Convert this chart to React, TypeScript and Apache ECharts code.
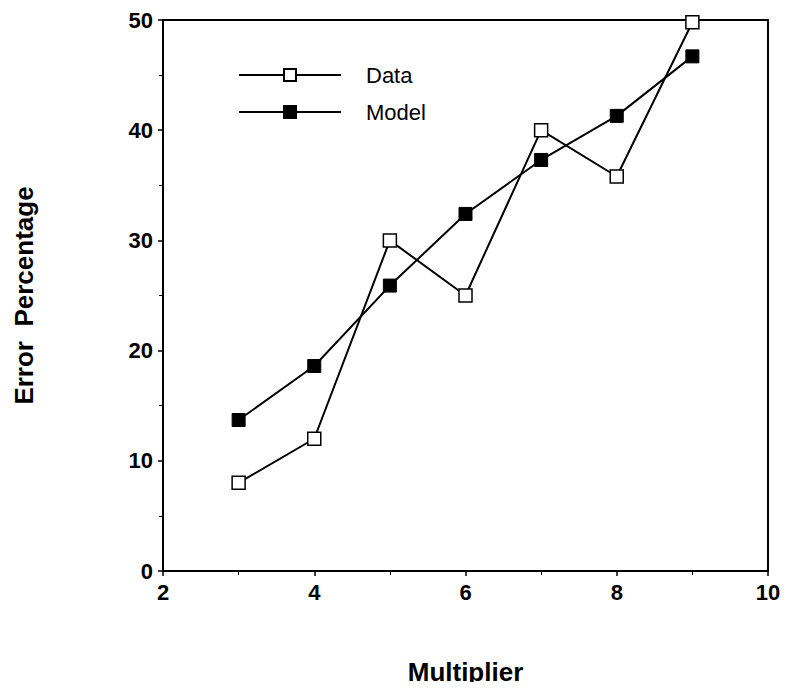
import React, { useEffect, useRef } from "react";
import * as echarts from "echarts";

const multipliers = [3, 4, 5, 6, 7, 8, 9];
const dataValues = [8, 12, 30, 25, 40, 35.8, 49.8];
const modelValues = [13.7, 18.6, 25.9, 32.4, 37.3, 41.3, 46.7];

const FONT = "Liberation Sans, Arial, Helvetica, sans-serif";

export default function App() {
  const ref = useRef<HTMLDivElement>(null);
  useEffect(() => {
    if (!ref.current) return;
    const chart = echarts.init(ref.current, null, { renderer: "svg" });
    const pairs = (vals: number[]) => multipliers.map((m, i) => [m, vals[i]]);
    chart.setOption({
      animation: false,
      backgroundColor: "#ffffff",
      grid: {
        left: 163,
        right: 22,
        top: 20,
        bottom: 118,
        show: true,
        borderColor: "#000",
        borderWidth: 2,
        backgroundColor: "transparent",
      },
      legend: {
        orient: "vertical",
        left: 233,
        top: 59,
        itemWidth: 102,
        itemHeight: 15,
        itemGap: 15,
        textStyle: {
          fontFamily: FONT,
          fontSize: 22,
          color: "#000",
          padding: [0, 0, 0, 20],
        },
        data: ["Data", "Model"],
      },
      xAxis: {
        type: "value",
        min: 2,
        max: 10,
        interval: 2,
        name: "Multiplier",
        nameLocation: "middle",
        nameGap: 88,
        nameTextStyle: { fontFamily: FONT, fontSize: 26, fontWeight: "bold", color: "#000" },
        axisLine: { show: true, lineStyle: { color: "#000", width: 2 } },
        axisTick: { show: true, length: 5, lineStyle: { color: "#000", width: 1.5 } },
        minorTick: { show: true, splitNumber: 2, length: 4, lineStyle: { color: "#000", width: 1 } },
        splitLine: { show: false },
        axisLabel: { fontFamily: FONT, fontSize: 22, fontWeight: "bold", color: "#000", margin: 10 },
      },
      yAxis: {
        type: "value",
        min: 0,
        max: 50,
        interval: 10,
        name: "Error  Percentage",
        nameLocation: "middle",
        nameGap: 126,
        nameRotate: 90,
        nameTextStyle: { fontFamily: FONT, fontSize: 26, fontWeight: "bold", color: "#000" },
        axisLine: { show: true, lineStyle: { color: "#000", width: 2 } },
        axisTick: { show: true, length: 5, lineStyle: { color: "#000", width: 1.5 } },
        minorTick: { show: true, splitNumber: 2, length: 4, lineStyle: { color: "#000", width: 1 } },
        splitLine: { show: false },
        axisLabel: { fontFamily: FONT, fontSize: 22, fontWeight: "bold", color: "#000", margin: 10 },
      },
      series: [
        {
          name: "Data",
          type: "line",
          data: pairs(dataValues),
          symbol: "rect",
          symbolSize: 13,
          lineStyle: { color: "#000", width: 2 },
          itemStyle: { color: "#fff", borderColor: "#000", borderWidth: 1.5 },
          z: 3,
        },
        {
          name: "Model",
          type: "line",
          data: pairs(modelValues),
          symbol: "rect",
          symbolSize: 13,
          lineStyle: { color: "#000", width: 2 },
          itemStyle: { color: "#000", borderColor: "#000", borderWidth: 1 },
          z: 2,
        },
      ],
    });
    return () => chart.dispose();
  }, []);
  return <div ref={ref} style={{ width: 790, height: 690, margin: -8 }} />;
}
